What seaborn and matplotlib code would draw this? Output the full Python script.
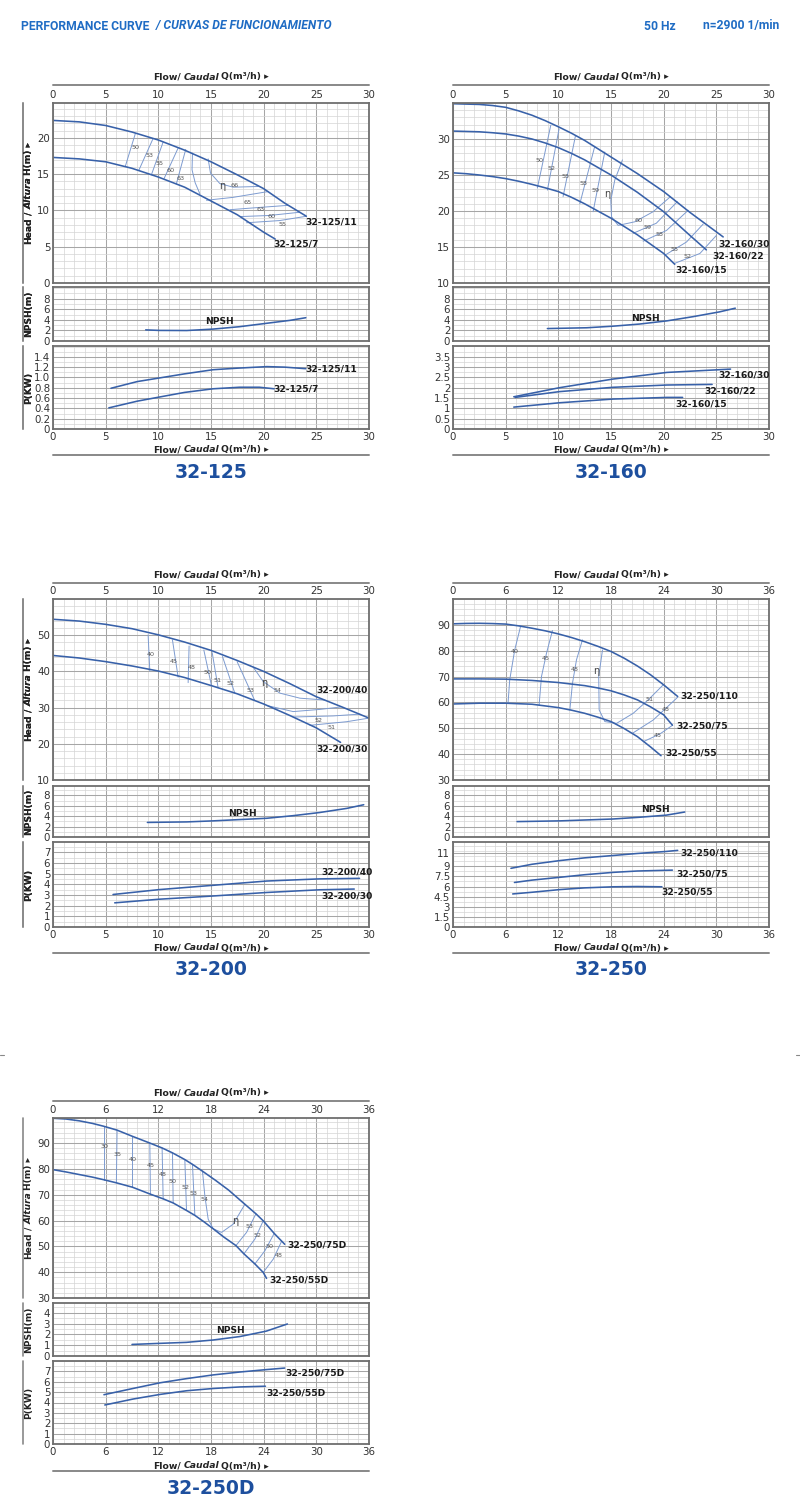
import matplotlib
matplotlib.use("Agg")
import matplotlib.pyplot as plt
from matplotlib.lines import Line2D
from matplotlib.ticker import MultipleLocator
import seaborn as sns

# ---------------- 32-125 ----------------
q_125_11 = [0, 2.5, 5, 7.5, 10, 12.5, 15, 17.5, 20, 22, 24.05]
h_125_11 = [22.4, 22.2, 21.7, 20.8, 19.7, 18.3, 16.7, 14.9, 13.0, 11.0, 9.2]
q_125_7 = [0, 2.5, 5, 7.5, 10, 12.5, 15, 17.5, 20, 21.1]
h_125_7 = [17.3, 17.1, 16.7, 15.8, 14.6, 13.2, 11.3, 9.4, 7.0, 6.05]
npsh_125_q = [8.8, 10.1, 12.7, 15.2, 17.7, 20.3, 22.5, 24.0]
npsh_125 = [2.1, 2.0, 1.98, 2.25, 2.7, 3.35, 3.9, 4.4]
pq_125_11 = [5.5, 8, 10.1, 12.5, 15.2, 17.5, 20.3, 22, 24]
p_125_11 = [0.79, 0.92, 0.99, 1.07, 1.15, 1.18, 1.21, 1.2, 1.17]
pq_125_7 = [5.3, 8, 10.1, 12.5, 15.2, 17.7, 19.6, 21]
p_125_7 = [0.41, 0.54, 0.62, 0.71, 0.78, 0.81, 0.81, 0.78]
eff_125 = [
    ([6.87, 7.82], [16.1, 20.6]),
    ([8.17, 9.5], [15.6, 19.9]),
    ([9.34, 10.45], [14.9, 19.4]),
    ([10.55, 11.88], [14.4, 18.6]),
    ([11.72, 12.6], [13.7, 18.4]),
    ([13.24, 13.2, 13.5, 13.94], [17.9, 15.6, 13.8, 12.3]),
    ([14.73, 14.95, 15.84, 17.1, 19.48], [17.1, 15.15, 13.7, 13.2, 13.3]),
    ([14.57, 17.1, 20.43], [11.4, 11.8, 12.6]),
    ([16.8, 19.5, 22.33], [10.1, 10.4, 10.7]),
    ([17.74, 20.5, 23.44], [9.15, 9.3, 9.75]),
    ([18.37, 21.5, 24.07], [8.3, 8.6, 9.2]),
]
eff_125_text = [(7.82, 18.7, "50"), (9.15, 17.6, "53"), (10.07, 16.5, "55"), (11.18, 15.5, "60"),
                (12.13, 14.4, "63"), (17.26, 13.4, "66"), (18.5, 11.1, "65"), (19.7, 10.1, "63"),
                (20.75, 9.15, "60"), (21.76, 8.1, "55")]
eta_125 = (16.1, 13.3)

# ---------------- 32-160 ----------------
q_160_30 = [0, 2.5, 3.75, 5, 6.25, 7.5, 8.75, 10, 11.25, 12.5, 15, 17.5, 20, 22.5, 25.65]
h_160_30 = [34.9, 34.8, 34.65, 34.4, 33.9, 33.3, 32.55, 31.7, 30.8, 29.8, 27.5, 25.2, 22.7, 19.8, 16.4]
q_160_22 = [0, 2.5, 3.75, 5, 6.25, 7.5, 8.75, 10, 11.25, 12.5, 15, 17.5, 20, 22.5, 24.05]
h_160_22 = [31.1, 31.0, 30.87, 30.7, 30.4, 30.0, 29.45, 28.8, 28.0, 27.1, 25.0, 22.6, 19.9, 16.6, 14.6]
q_160_15 = [0, 1.25, 2.5, 3.75, 5, 6.25, 7.5, 8.75, 10, 11.25, 12.5, 15, 17.5, 20, 21.05]
h_160_15 = [25.3, 25.18, 25.0, 24.78, 24.5, 24.13, 23.7, 23.22, 22.7, 21.9, 21.0, 19.0, 16.7, 14.1, 12.6]
npsh_160_q = [8.96, 12.7, 15.2, 17.7, 20.3, 22.8, 25.3, 26.8]
npsh_160 = [2.35, 2.5, 2.8, 3.2, 3.8, 4.6, 5.5, 6.2]
pq_160_30 = [5.77, 10.1, 15.2, 20.3, 26.35]
p_160_30 = [1.56, 2.0, 2.42, 2.74, 2.9]
pq_160_22 = [5.9, 10.1, 15.2, 20.3, 24.6]
p_160_22 = [1.53, 1.81, 2.02, 2.13, 2.16]
pq_160_15 = [5.77, 10.1, 15.2, 20.3, 21.8]
p_160_15 = [1.06, 1.27, 1.45, 1.53, 1.53]
eff_160 = [
    ([8.01, 9.28], [23.2, 31.9]),
    ([8.96, 10.07], [22.9, 31.4]),
    ([10.45, 11.62], [22.0, 30.4]),
    ([12.04, 13.46], [21.0, 29.0]),
    ([13.3, 14.41], [19.9, 28.2]),
    ([16.09, 15.36, 14.98, 15.05, 15.68, 17.26, 19.0, 20.65], [27.1, 24.3, 21.5, 19.2, 18.0, 18.5, 19.9, 22.0]),
    ([17.1, 19.3, 21.3], [16.9, 18.3, 21.3]),
    ([18.05, 20.27, 22.33], [15.8, 17.3, 20.1]),
    ([20.11, 22.17, 23.76], [13.85, 15.7, 18.2]),
    ([21.0, 23.44, 25.0], [12.7, 14.1, 16.6]),
]
eff_160_text = [(8.24, 27.0, "50"), (9.34, 25.9, "52"), (10.7, 24.85, "55"), (12.35, 23.8, "58"),
                (13.56, 22.8, "59"), (17.64, 18.7, "60"), (18.43, 17.7, "59"), (19.64, 16.7, "58"),
                (21.06, 14.7, "55"), (22.24, 13.7, "52")]
eta_160 = (14.6, 22.4)

# ---------------- 32-200 ----------------
q_200_40 = [0, 2.5, 5, 7.5, 10, 12.5, 15, 17.5, 20, 22.5, 25, 27.5, 30]
h_200_40 = [54.4, 53.9, 53.0, 51.8, 50.1, 48.1, 45.8, 43.0, 40.0, 36.6, 33.0, 30.1, 27.1]
q_200_30 = [0, 2.5, 5, 7.5, 10, 12.5, 15, 17.5, 20, 22.5, 25, 27.3]
h_200_30 = [44.4, 43.7, 42.7, 41.5, 40.1, 38.3, 36.1, 33.8, 31.0, 27.8, 24.4, 20.4]
npsh_200_q = [8.96, 12.7, 15.2, 20.3, 22.8, 25.3, 27.9, 29.5]
npsh_200 = [2.8, 2.9, 3.1, 3.6, 4.1, 4.7, 5.5, 6.2]
pq_200_40 = [5.7, 10.1, 15.2, 20.3, 25.3, 29.1]
p_200_40 = [3.04, 3.5, 3.9, 4.3, 4.5, 4.55]
pq_200_30 = [5.86, 10.1, 15.2, 20.3, 25.3, 28.6]
p_200_30 = [2.26, 2.6, 2.9, 3.23, 3.48, 3.55]
eff_200 = [
    ([9.19, 9.03], [40.1, 50.1]),
    ([11.88, 11.34], [38.4, 48.7]),
    ([12.83, 12.92], [36.9, 47.0]),
    ([15.05, 14.32], [36.0, 45.9]),
    ([15.68, 15.11], [35.4, 45.2]),
    ([17.26, 16.09], [34.0, 44.1]),
    ([19.16, 17.48], [31.9, 42.7]),
    ([19.0, 19.96, 21.54, 23.44, 25.8], [41.2, 37.2, 34.0, 32.6, 32.1]),
    ([20.27, 22.8, 25.34, 27.4], [30.6, 28.9, 29.5, 30.2]),
    ([22.8, 26.6, 29.14], [27.4, 27.7, 28.2]),
    ([24.39, 27.87, 30.0], [25.1, 26.1, 27.1]),
]
eff_200_text = [(9.25, 44.7, "40"), (11.43, 42.7, "45"), (13.2, 41.1, "48"), (14.67, 39.7, "50"),
                (15.62, 37.5, "51"), (16.85, 36.7, "52"), (18.75, 34.6, "53"), (21.3, 34.6, "54"),
                (25.18, 26.5, "52"), (26.4, 24.5, "51")]
eta_200 = (20.1, 36.7)

# ---------------- 32-250 ----------------
q_250_110 = [0, 1.5, 3, 4.5, 6, 7.5, 9, 10.5, 12, 13.5, 15, 16.5, 18, 19.5, 21, 22.5, 24, 25.6]
h_250_110 = [90.4, 90.55, 90.6, 90.5, 90.3, 89.6, 88.7, 87.7, 86.5, 85.1, 83.5, 81.7, 79.7, 77.1,
             74.1, 70.7, 66.8, 62.3]
q_250_75 = [0, 3, 6, 9, 12, 15, 16.5, 18, 19.5, 21, 22.5, 24, 25.0]
h_250_75 = [69.1, 69.1, 69.0, 68.5, 67.7, 66.5, 65.6, 64.5, 62.9, 61.0, 58.3, 55.2, 51.2]
q_250_55 = [0, 3, 6, 9, 12, 13.5, 15, 16.5, 18, 19.5, 21, 22.5, 23.7]
h_250_55 = [59.4, 59.7, 59.7, 59.3, 58.0, 57.0, 55.8, 54.3, 52.6, 49.9, 46.8, 42.8, 39.4]
npsh_250_q = [7.3, 12.2, 18.25, 21.3, 24.3, 26.4]
npsh_250 = [2.96, 3.1, 3.46, 3.8, 4.2, 4.8]
pq_250_110 = [6.6, 9, 12.2, 15, 18.25, 21, 24.3, 25.6]
p_250_110 = [8.7, 9.3, 9.85, 10.25, 10.6, 10.9, 11.2, 11.36]
pq_250_75 = [7.0, 9, 12.2, 15, 18.25, 21, 25.0]
p_250_75 = [6.6, 6.95, 7.37, 7.75, 8.1, 8.3, 8.43]
pq_250_55 = [6.8, 9, 12.2, 15, 18.25, 21, 23.8]
p_250_55 = [4.9, 5.15, 5.55, 5.8, 5.96, 6.0, 5.96]
eff_250 = [
    ([6.27, 6.46, 7.03, 7.72], [59.7, 68.7, 80.3, 89.7]),
    ([9.81, 10.08, 10.65, 11.33], [59.0, 70.0, 79.0, 87.8]),
    ([13.31, 13.61, 14.07, 14.75], [57.1, 67.4, 76.5, 84.2]),
    ([17.03, 16.6, 16.65, 17.3, 18.63, 20.53, 22.24, 23.95], [80.3, 70.0, 57.1, 52.6, 51.9, 55.8, 61.0, 66.8]),
    ([20.46, 22.81, 25.59], [48.1, 53.2, 62.0]),
    ([21.67, 23.57, 25.02], [44.8, 47.8, 51.2]),
]
eff_250_text = [(7.03, 79.7, "40"), (10.57, 77.1, "45"), (13.88, 72.6, "48"), (22.36, 61.2, "51"),
                (24.22, 57.2, "48"), (23.38, 47.2, "45")]
eta_250 = (16.3, 72.0)

# ---------------- 32-250D ----------------
q_250_75d = [0, 1.5, 3, 4.5, 5.78, 7.3, 9.05, 11.03, 12.43, 13.61, 15.02, 16.0, 17.03, 18.5, 20,
             21.86, 23.12, 23.95, 25.2, 26.4]
h_250_75d = [99.6, 99.3, 98.6, 97.6, 96.5, 95.0, 92.6, 90.0, 88.1, 86.2, 83.6, 81.5, 79.1, 75.6, 71.8,
             66.3, 62.6, 59.9, 55.0, 50.8]
q_250_55d = [0, 1.5, 3, 4.5, 5.78, 7.22, 9.05, 11.1, 12.55, 13.69, 15.21, 16.16, 17.2, 18.25, 19.5,
             20.84, 21.75, 23.0, 23.95, 24.33]
h_250_55d = [79.7, 78.8, 77.8, 76.8, 75.8, 74.6, 72.9, 70.2, 68.4, 66.8, 63.9, 62.0, 59.5, 56.8, 53.5,
             50.3, 47.1, 43.2, 39.9, 37.6]
npsh_250d_q = [9.0, 12.2, 15.2, 18.25, 21.3, 24.3, 26.7]
npsh_250d = [1.07, 1.17, 1.26, 1.48, 1.8, 2.3, 2.96]
pq_250_75d = [5.8, 9.1, 12.2, 15.2, 18.25, 21.3, 24.3, 26.4]
p_250_75d = [4.75, 5.35, 5.9, 6.3, 6.66, 6.94, 7.17, 7.32]
pq_250_55d = [5.9, 9.1, 12.2, 15.2, 18.25, 21.3, 24.2]
p_250_55d = [3.76, 4.33, 4.78, 5.13, 5.35, 5.5, 5.57]
eff_250d = [
    ([5.78, 5.78], [75.8, 96.5]),
    ([7.22, 7.3], [74.6, 95.0]),
    ([9.05, 9.05], [72.9, 92.6]),
    ([11.1, 11.03], [70.2, 90.0]),
    ([12.55, 12.43], [68.4, 88.1]),
    ([13.69, 13.61], [66.8, 86.2]),
    ([15.21, 15.02], [63.9, 83.6]),
    ([16.16, 15.89], [62.0, 81.8]),
    ([17.03, 17.3, 17.68, 18.25, 19.2, 20.53, 21.86], [79.1, 69.5, 60.5, 56.8, 55.4, 58.6, 66.3]),
    ([20.84, 22.05, 23.12], [50.3, 55.4, 62.6]),
    ([21.75, 23.0, 23.95], [47.1, 52.8, 59.9]),
    ([23.0, 24.14, 25.2], [43.2, 48.3, 55.0]),
    ([23.95, 25.1, 26.05], [39.9, 45.1, 52.0]),
]
eff_250d_text = [(5.82, 88.5, "30"), (7.3, 85.5, "35"), (9.05, 83.6, "40"), (11.1, 81.3, "45"),
                 (12.47, 77.7, "48"), (13.61, 75.3, "50"), (15.1, 72.9, "52"), (16.05, 70.4, "53"),
                 (17.22, 68.0, "54"), (22.36, 57.6, "53"), (23.27, 54.1, "52"), (24.64, 49.9, "50"),
                 (25.7, 46.4, "48")]
eta_250d = (20.8, 59.9)

# ---------------- style ----------------
sns.set_style("white")
plt.rcParams['font.family'] = ['DejaVu Sans']

W, H = 800, 1507
CURVE = '#3861a9'
ISO = '#7d9bd0'
GRID_MIN = '#d5d5d5'
GRID_MAJ = '#a6a6a6'
FRAME = '#6e6e6e'
TXT = '#333333'
TITLE_BLUE = '#1d4f9e'
HEAD_BLUE = '#1f6cc4'

fig = plt.figure(figsize=(W / 100, H / 100), dpi=100)
renderer = fig.canvas.get_renderer()


def fx(x):
    return x / W


def fy(y):
    return 1 - y / H


def rich_text(x, y, parts, size, color='#222222', rotation=0, align='center', family=None):
    # several text pieces with different styles laid out one after the other
    gap = size * 100 / 72 * 0.28
    items = []
    for s, weight, style in parts:
        kw = dict(fontsize=size, fontweight=weight, fontstyle=style, color=color, rotation=rotation)
        if family:
            kw['family'] = family
        if rotation == 0:
            t = fig.text(0, 0, s, ha='left', va='center', **kw)
            ln = t.get_window_extent(renderer).width
        else:
            t = fig.text(0, 0, s, ha='center', va='bottom', **kw)
            ln = t.get_window_extent(renderer).height
        items.append((t, ln))
    total = sum(l for _, l in items) + gap * (len(items) - 1)
    if rotation == 0:
        pos = {'center': x - total / 2, 'left': x, 'right': x - total}[align]
        for t, ln in items:
            t.set_position((fx(pos), fy(y)))
            pos += ln + gap
    else:
        pos = y + total / 2
        for t, ln in items:
            t.set_position((fx(x), fy(pos)))
            pos -= ln + gap


def hline(x0, x1, y, lw=1.4):
    fig.add_artist(Line2D([fx(x0), fx(x1)], [fy(y), fy(y)], color='#888888', lw=lw))


def vline(x, y0, y1):
    fig.add_artist(Line2D([fx(x), fx(x)], [fy(y0), fy(y1)], color='#888888', lw=1.2))


def make_ax(x0, x1, y0, y1):
    return fig.add_axes([fx(x0), fy(y1), (x1 - x0) / W, (y1 - y0) / H])


def style_ax(ax, xmax, xstep, xminor, ylim, yticks, ylabels, yminor, where):
    ax.set_xlim(0, xmax)
    ax.set_ylim(*ylim)
    ax.xaxis.set_major_locator(MultipleLocator(xstep))
    ax.xaxis.set_minor_locator(MultipleLocator(xminor))
    ax.set_yticks(yticks, ylabels)
    ax.yaxis.set_minor_locator(MultipleLocator(yminor))
    ax.grid(True, which='minor', color=GRID_MIN, lw=0.5)
    ax.grid(True, which='major', color=GRID_MAJ, lw=0.75)
    ax.set_axisbelow(True)
    ax.tick_params(which='both', length=0, labelsize=7.4, labelcolor=TXT, pad=2,
                   top=False, bottom=False, labeltop=(where == 'top'), labelbottom=(where == 'bottom'))
    for sp in ax.spines.values():
        sp.set_color(FRAME)
        sp.set_linewidth(1.3)
    ax.set_xlabel('')
    ax.set_ylabel('')


def line(ax, q, v, color=CURVE, lw=1.15):
    sns.lineplot(x=q, y=v, ax=ax, color=color, linewidth=lw, sort=False, estimator=None, legend=False)


def lab(ax, q, v, s, size=6.6):
    ax.text(q, v, s, fontsize=size, fontweight='bold', color='#1a1a1a', ha='left', va='center')


FLOW = [("Flow/", 'bold', 'normal'), ("Caudal", 'bold', 'italic'), ("Q(m³/h) ▸", 'bold', 'normal')]
HEADLBL = [("Head", 'bold', 'normal'), ("/", 'bold', 'normal'), ("Altura", 'bold', 'italic'),
           ("H(m) ▸", 'bold', 'normal')]


def draw_panel(p):
    x0, x1 = p['x']
    xmax, xstep, xminor = p['xaxis']
    cx = (x0 + x1) / 2
    rich_text(cx, p['flow_top'], FLOW, 6.7)
    hline(x0, x1, p['flow_top'] + 8)

    # head
    y0, y1 = p['head_y']
    ax = make_ax(x0, x1, y0, y1)
    for qs, hs in p['eff']:
        line(ax, qs, hs, color=ISO, lw=0.7)
    for q, h in p['curves']:
        line(ax, q, h)
    for q, h, s in p['eff_text']:
        ax.text(q, h, s, fontsize=4.6, color='#555555', ha='center', va='center')
    ax.text(*p['eta'], 'η', fontsize=7, color='#444444', ha='center', va='center')
    for q, h, s in p['head_labels']:
        lab(ax, q, h, s)
    style_ax(ax, xmax, xstep, xminor, *p['head_axis'], where='top')
    vline(23, y0, y1)
    rich_text(29, (y0 + y1) / 2, HEADLBL, 6.6, rotation=90)

    # npsh
    y0, y1 = p['npsh_y']
    ax = make_ax(x0, x1, y0, y1)
    line(ax, p['npsh'][0], p['npsh'][1])
    ax.text(*p['npsh_text'], 'NPSH', fontsize=6.6, fontweight='bold', color='#1a1a1a', ha='center', va='center')
    style_ax(ax, xmax, xstep, xminor, *p['npsh_axis'], where='none')
    vline(23, y0, y1)
    rich_text(29, (y0 + y1) / 2, [("NPSH(m)", 'bold', 'normal')], 6.6, rotation=90)

    # power
    y0, y1 = p['p_y']
    ax = make_ax(x0, x1, y0, y1)
    for q, v in p['power']:
        line(ax, q, v)
    for q, v, s in p['p_labels']:
        lab(ax, q, v, s)
    style_ax(ax, xmax, xstep, xminor, *p['p_axis'], where='bottom')
    vline(23, y0, y1)
    rich_text(29, (y0 + y1) / 2, [("P(KW)", 'bold', 'normal')], 6.6, rotation=90)

    rich_text(cx, p['flow_bot'], FLOW, 6.7)
    hline(x0, x1, p['flow_bot'] + 5)
    fig.text(fx(cx), fy(p['title_y']), p['title'], fontsize=13.5, fontweight='bold',
             color=TITLE_BLUE, ha='center', va='center')


npsh_axis_10 = ((0, 10.2), [0, 2, 4, 6, 8], ['0', '2', '4', '6', '8'], 1)

panels = [
    dict(title='32-125', x=(53, 369), xaxis=(30, 5, 1),
         flow_top=77, head_y=(103, 283), npsh_y=(287, 341), p_y=(346, 429), flow_bot=450, title_y=473,
         curves=[(q_125_11, h_125_11), (q_125_7, h_125_7)],
         eff=eff_125, eff_text=eff_125_text, eta=eta_125,
         head_labels=[(24.0, 8.4, '32-125/11'), (20.97, 5.4, '32-125/7')],
         head_axis=((0, 24.8), [0, 5, 10, 15, 20], ['0', '5', '10', '15', '20'], 1),
         npsh=(npsh_125_q, npsh_125), npsh_text=(15.84, 3.7), npsh_axis=npsh_axis_10,
         power=[(pq_125_11, p_125_11), (pq_125_7, p_125_7)],
         p_labels=[(23.98, 1.17, '32-125/11'), (20.97, 0.77, '32-125/7')],
         p_axis=((0, 1.61), [0, 0.2, 0.4, 0.6, 0.8, 1.0, 1.2, 1.4],
                 ['0', '0.2', '0.4', '0.6', '0.8', '1.0', '1.2', '1.4'], 0.1)),
    dict(title='32-160', x=(453, 769), xaxis=(30, 5, 1),
         flow_top=77, head_y=(103, 283), npsh_y=(287, 341), p_y=(346, 429), flow_bot=450, title_y=473,
         curves=[(q_160_30, h_160_30), (q_160_22, h_160_22), (q_160_15, h_160_15)],
         eff=eff_160, eff_text=eff_160_text, eta=eta_160,
         head_labels=[(25.2, 15.4, '32-160/30'), (24.6, 13.8, '32-160/22'), (21.15, 11.8, '32-160/15')],
         head_axis=((10, 35), [10, 15, 20, 25, 30], ['10', '15', '20', '25', '30'], 1),
         npsh=(npsh_160_q, npsh_160), npsh_text=(18.3, 4.3), npsh_axis=npsh_axis_10,
         power=[(pq_160_30, p_160_30), (pq_160_22, p_160_22), (pq_160_15, p_160_15)],
         p_labels=[(25.2, 2.6, '32-160/30'), (23.9, 1.85, '32-160/22'), (21.15, 1.23, '32-160/15')],
         p_axis=((0, 4.02), [0, 0.5, 1, 1.5, 2, 2.5, 3, 3.5],
                 ['0', '0.5', '1', '1.5', '2', '2.5', '3', '3.5'], 0.25)),
    dict(title='32-200', x=(53, 369), xaxis=(30, 5, 1),
         flow_top=575, head_y=(599, 780), npsh_y=(786, 837), p_y=(842, 927), flow_bot=948, title_y=969,
         curves=[(q_200_40, h_200_40), (q_200_30, h_200_30)],
         eff=eff_200, eff_text=eff_200_text, eta=eta_200,
         head_labels=[(25.0, 34.9, '32-200/40'), (25.0, 18.5, '32-200/30')],
         head_axis=((10, 60), [10, 20, 30, 40, 50], ['10', '20', '30', '40', '50'], 2),
         npsh=(npsh_200_q, npsh_200), npsh_text=(18.0, 4.5), npsh_axis=((0, 9.8), [0, 2, 4, 6, 8],
                                                                    ['0', '2', '4', '6', '8'], 1),
         power=[(pq_200_40, p_200_40), (pq_200_30, p_200_30)],
         p_labels=[(25.5, 5.12, '32-200/40'), (25.5, 2.89, '32-200/30')],
         p_axis=((0, 7.95), [0, 1, 2, 3, 4, 5, 6, 7], ['0', '1', '2', '3', '4', '5', '6', '7'], 0.5)),
    dict(title='32-250', x=(453, 769), xaxis=(36, 6, 1.2),
         flow_top=575, head_y=(599, 780), npsh_y=(786, 837), p_y=(842, 927), flow_bot=948, title_y=969,
         curves=[(q_250_110, h_250_110), (q_250_75, h_250_75), (q_250_55, h_250_55)],
         eff=eff_250, eff_text=eff_250_text, eta=eta_250,
         head_labels=[(25.9, 62.3, '32-250/110'), (25.4, 51.0, '32-250/75'), (24.2, 40.3, '32-250/55')],
         head_axis=((30, 100), [30, 40, 50, 60, 70, 80, 90],
                    ['30', '40', '50', '60', '70', '80', '90'], 2),
         npsh=(npsh_250_q, npsh_250), npsh_text=(23.1, 5.2), npsh_axis=((0, 9.8), [0, 2, 4, 6, 8],
                                                                    ['0', '2', '4', '6', '8'], 1),
         power=[(pq_250_110, p_250_110), (pq_250_75, p_250_75), (pq_250_55, p_250_55)],
         p_labels=[(25.9, 11.0, '32-250/110'), (25.4, 7.88, '32-250/75'), (23.7, 5.2, '32-250/55')],
         p_axis=((0, 12.6), [0, 1.5, 3, 4.5, 6, 7.5, 9, 11],
                 ['0', '1.5', '3', '4.5', '6', '7.5', '9', '11'], 0.75)),
    dict(title='32-250D', x=(53, 369), xaxis=(36, 6, 1.2),
         flow_top=1093, head_y=(1118, 1298), npsh_y=(1303, 1356), p_y=(1361, 1444), flow_bot=1466,
         title_y=1489,
         curves=[(q_250_75d, h_250_75d), (q_250_55d, h_250_55d)],
         eff=eff_250d, eff_text=eff_250d_text, eta=eta_250d,
         head_labels=[(26.7, 50.6, '32-250/75D'), (24.6, 37.0, '32-250/55D')],
         head_axis=((30, 99.7), [30, 40, 50, 60, 70, 80, 90],
                    ['30', '40', '50', '60', '70', '80', '90'], 2),
         npsh=(npsh_250d_q, npsh_250d), npsh_text=(20.2, 2.4),
         npsh_axis=((0, 4.9), [0, 1, 2, 3, 4], ['0', '1', '2', '3', '4'], 0.5),
         power=[(pq_250_75d, p_250_75d), (pq_250_55d, p_250_55d)],
         p_labels=[(26.5, 6.85, '32-250/75D'), (24.3, 4.94, '32-250/55D')],
         p_axis=((0, 8.0), [0, 1, 2, 3, 4, 5, 6, 7], ['0', '1', '2', '3', '4', '5', '6', '7'], 0.5)),
]

for p in panels:
    draw_panel(p)

# page header
head_font = ['Roboto', 'DejaVu Sans']
rich_text(21, 26, [("PERFORMANCE CURVE", 'bold', 'normal'), (" / CURVAS DE FUNCIONAMIENTO", 'bold', 'italic')],
          8.7, color=HEAD_BLUE, align='left', family=head_font)
rich_text(676, 26, [("50 Hz", 'bold', 'normal')], 8.7, color=HEAD_BLUE, align='right', family=head_font)
rich_text(779, 26, [("n=2900 1/min", 'bold', 'normal')], 8.7, color=HEAD_BLUE, align='right', family=head_font)

# small page marks
hline(0, 4, 1055, lw=0.8)
hline(796, 800, 1055, lw=0.8)

fig.savefig('out.png', dpi=100)
